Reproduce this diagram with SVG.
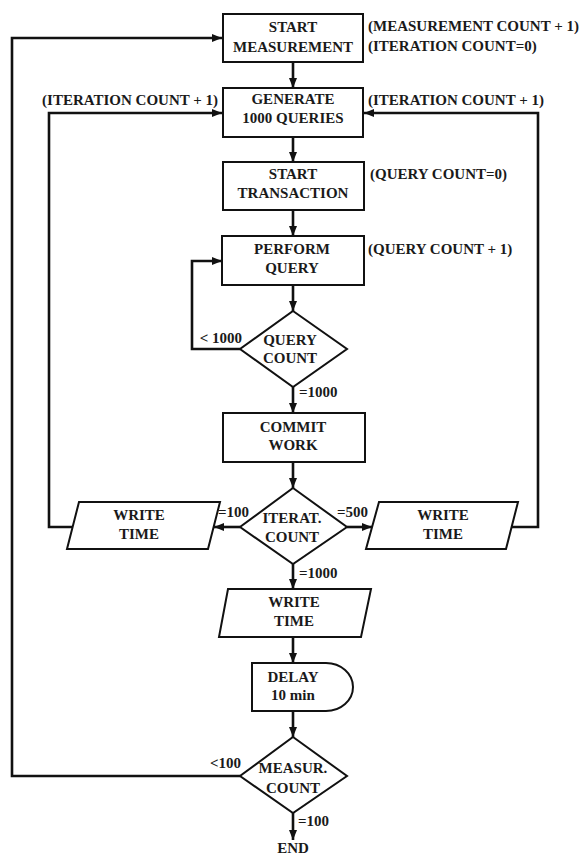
<svg xmlns="http://www.w3.org/2000/svg" width="586" height="855" viewBox="0 0 586 855">
<style>
  .shape { fill: #ffffff; stroke: #111; stroke-width: 2; }
  .conn { fill: none; stroke: #111; stroke-width: 2.6; }
  text { font-family: "Liberation Serif", "DejaVu Serif", "Times New Roman", serif; font-weight: bold; font-size: 15px; fill: #1a1a1a; }
  .c { text-anchor: middle; }
  .e { text-anchor: end; }
</style>
<defs>
  <marker id="arr" markerUnits="userSpaceOnUse" markerWidth="10" markerHeight="8" refX="10" refY="4" orient="auto">
    <path d="M0,0 L10,4 L0,8 z" fill="#111"/>
  </marker>
</defs>
<rect width="586" height="855" fill="#ffffff"/>

<g id="connectors">
  <line class="conn" x1="293" y1="62" x2="293" y2="88" marker-end="url(#arr)"/>
  <line class="conn" x1="293" y1="137" x2="293" y2="162" marker-end="url(#arr)"/>
  <line class="conn" x1="293" y1="210" x2="293" y2="236" marker-end="url(#arr)"/>
  <line class="conn" x1="293" y1="285" x2="293" y2="311" marker-end="url(#arr)"/>
  <polyline class="conn" points="240,349 192,349 192,261 222,261" marker-end="url(#arr)"/>
  <line class="conn" x1="293" y1="387" x2="293" y2="413" marker-end="url(#arr)"/>
  <line class="conn" x1="293" y1="462" x2="293" y2="488" marker-end="url(#arr)"/>
  <line class="conn" x1="240" y1="527" x2="214" y2="527" marker-end="url(#arr)"/>
  <line class="conn" x1="347" y1="527" x2="372" y2="527" marker-end="url(#arr)"/>
  <polyline class="conn" points="73,527 49,527 49,113 222,113" marker-end="url(#arr)"/>
  <polyline class="conn" points="512,527 538,527 538,113 364,113" marker-end="url(#arr)"/>
  <line class="conn" x1="293" y1="564" x2="293" y2="589" marker-end="url(#arr)"/>
  <line class="conn" x1="293" y1="637" x2="293" y2="663" marker-end="url(#arr)"/>
  <line class="conn" x1="293" y1="711" x2="293" y2="737" marker-end="url(#arr)"/>
  <polyline class="conn" points="240,776 12,776 12,38 222,38" marker-end="url(#arr)"/>
  <line class="conn" x1="293" y1="813" x2="293" y2="840" marker-end="url(#arr)"/>
  <text x="242" y="343" class="e">&lt; 1000</text>
  <text x="299" y="397">=1000</text>
  <text x="218" y="517">=100</text>
  <text x="337" y="517">=500</text>
  <text x="299" y="578">=1000</text>
  <text x="241" y="768" class="e">&lt;100</text>
  <text x="298" y="826">=100</text>
</g>

<g id="start_measurement">
  <rect class="shape" x="223" y="14" width="140" height="48"/>
  <text x="293" y="32" class="c">START</text>
  <text x="293" y="52" class="c">MEASUREMENT</text>
  <text x="368" y="31">(MEASUREMENT COUNT + 1)</text>
  <text x="368" y="51">(ITERATION COUNT=0)</text>
</g>

<g id="generate_queries">
  <rect class="shape" x="223" y="88" width="140" height="49"/>
  <text x="293" y="104" class="c">GENERATE</text>
  <text x="293" y="123" class="c">1000 QUERIES</text>
  <text x="218" y="105" class="e">(ITERATION COUNT + 1)</text>
  <text x="368" y="105">(ITERATION COUNT + 1)</text>
</g>

<g id="start_transaction">
  <rect class="shape" x="223" y="162" width="141" height="48"/>
  <text x="293" y="179" class="c">START</text>
  <text x="293" y="198" class="c">TRANSACTION</text>
  <text x="370" y="179">(QUERY COUNT=0)</text>
</g>

<g id="perform_query">
  <rect class="shape" x="222" y="236" width="142" height="49"/>
  <text x="292" y="254" class="c">PERFORM</text>
  <text x="292" y="273" class="c">QUERY</text>
  <text x="368" y="254">(QUERY COUNT + 1)</text>
</g>

<g id="query_count">
  <polygon class="shape" points="293,311 347,349 293,387 240,349"/>
  <text x="290" y="345" class="c">QUERY</text>
  <text x="290" y="363" class="c">COUNT</text>
</g>

<g id="commit_work">
  <rect class="shape" x="223" y="413" width="142" height="49"/>
  <text x="293" y="432" class="c">COMMIT</text>
  <text x="293" y="450" class="c">WORK</text>
</g>

<g id="iterat_count">
  <polygon class="shape" points="293,488 347,527 293,564 240,527"/>
  <text x="292" y="523" class="c">ITERAT.</text>
  <text x="292" y="542" class="c">COUNT</text>
</g>

<g id="write_time_left">
  <polygon class="shape" points="79,502 220,502 208,549 67,549"/>
  <text x="139" y="520" class="c">WRITE</text>
  <text x="139" y="539" class="c">TIME</text>
</g>

<g id="write_time_right">
  <polygon class="shape" points="379,502 518,502 506,549 366,549"/>
  <text x="443" y="520" class="c">WRITE</text>
  <text x="443" y="539" class="c">TIME</text>
</g>

<g id="write_time_bottom">
  <polygon class="shape" points="228,589 371,589 361,637 219,637"/>
  <text x="294" y="607" class="c">WRITE</text>
  <text x="294" y="626" class="c">TIME</text>
</g>

<g id="delay">
  <path class="shape" d="M252,663 H326 A27,24 0 0 1 326,711 H252 Z"/>
  <text x="293" y="682" class="c">DELAY</text>
  <text x="293" y="700" class="c">10 min</text>
</g>

<g id="measur_count">
  <polygon class="shape" points="293,737 347,776 293,813 240,776"/>
  <text x="293" y="773" class="c">MEASUR.</text>
  <text x="293" y="793" class="c">COUNT</text>
</g>

<g id="end">
  <text x="293" y="853" class="c">END</text>
</g>
</svg>
